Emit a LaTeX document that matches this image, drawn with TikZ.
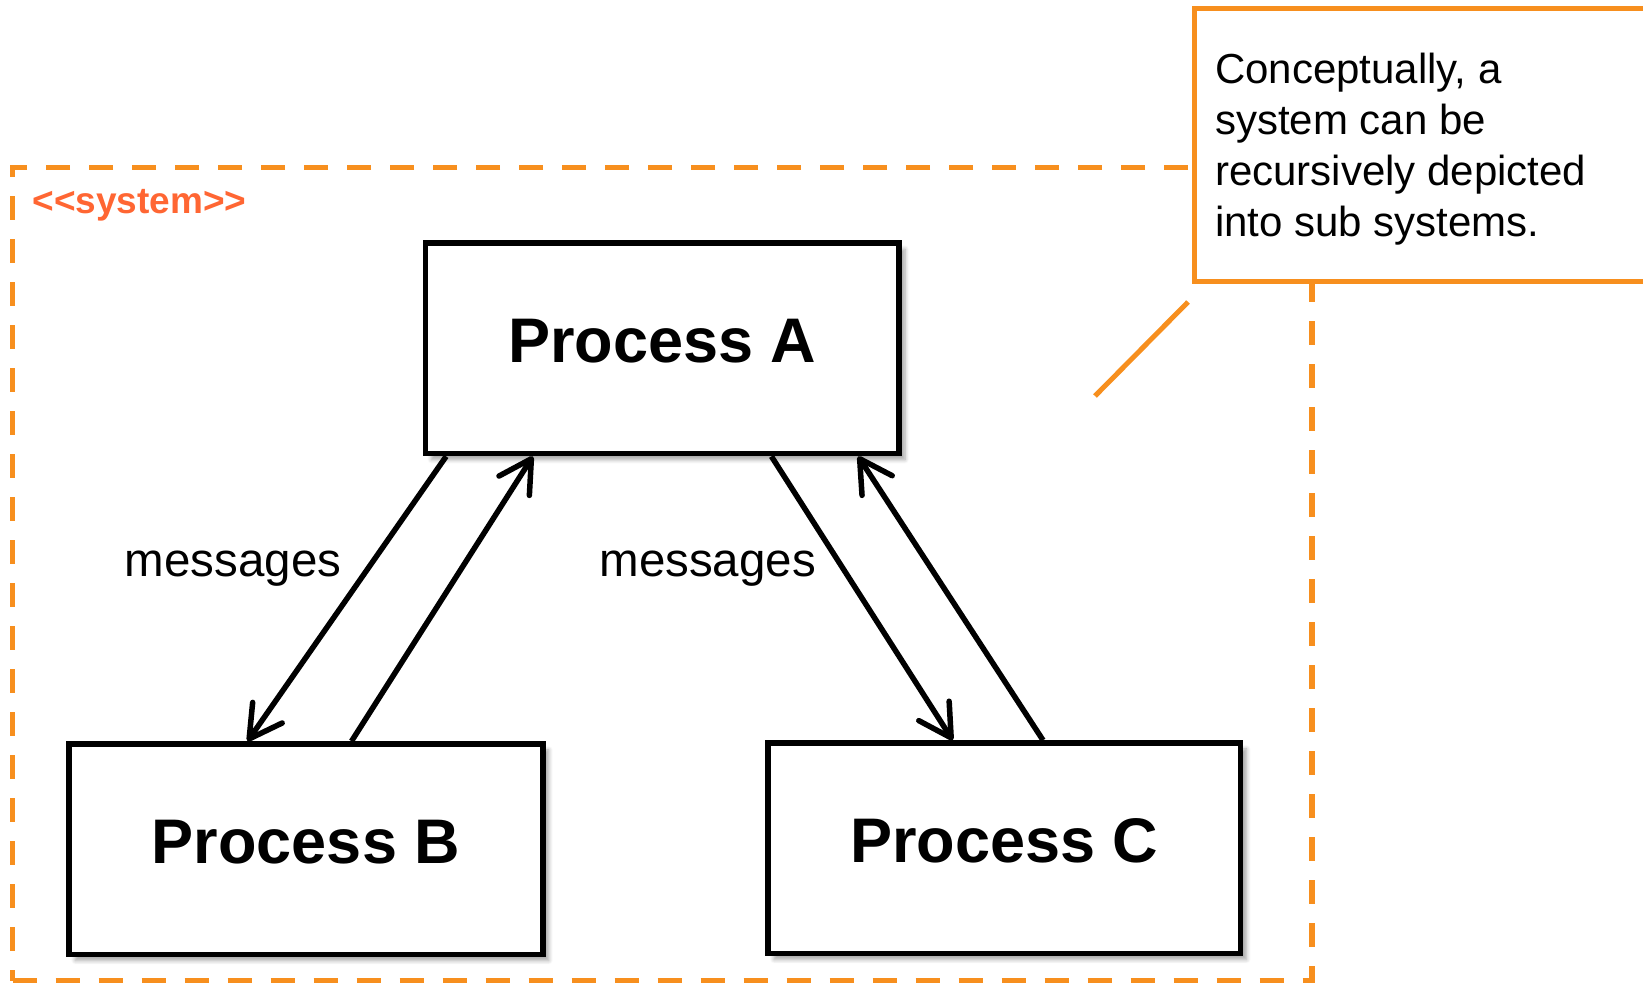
\documentclass[tikz,border=0pt]{standalone}
\usepackage{fontspec}
\setmainfont{Liberation Sans}
\usetikzlibrary{arrows.meta,calc,shadows,shadows.blur}
\definecolor{sysorange}{RGB}{247,143,30}
\definecolor{stereored}{RGB}{255,102,51}

\begin{document}
\begin{tikzpicture}[x=1pt,y=-1pt,
  sysframe/.style={draw=sysorange, line width=5.5pt, dash pattern=on 24pt off 19pt,
    inner sep=0pt, outer sep=0pt, anchor=north west},
  notebox/.style={draw=sysorange, fill=white, line width=5pt, inner sep=0pt,
    outer sep=0pt, anchor=north west},
  noteline/.style={draw=sysorange, line width=5pt},
  procbox/.style={draw=black, fill=white, line width=5.5pt, inner sep=0pt,
    minimum width=473.6pt, minimum height=210.5pt, text height=45pt, text depth=16pt,
    font=\fontsize{63}{70}\selectfont\bfseries,
    blur shadow={shadow xshift=6pt, shadow yshift=-6pt, shadow blur radius=4pt,
      shadow blur steps=6, shadow opacity=35}},
  msgarrow/.style={draw=black, line width=5.5pt,
    -{Straight Barb[length=32pt,width=36pt,round]}},
  msglabel/.style={anchor=base west, inner sep=0pt, font=\fontsize{47.5}{55}\selectfont},
]
\clip (0,0) rectangle (1643,983);

% system boundary with its stereotype
\node[sysframe, minimum width=1299.2pt, minimum height=813.1pt] (sys) at (12.6,167.6) {};
\node[anchor=base west, inner sep=0pt, text=stereored,
  font=\fontsize{37}{42}\selectfont\bfseries] (stereo) at (32.3,213.3) {<{}<system>{}>};

% comment note and its anchor line (base anchor = baseline of the last line)
\node[notebox, minimum width=520pt, minimum height=272.7pt] (note) at (1194.3,8.3) {};
\node[anchor=base west, align=left, inner sep=0pt, font=\fontsize{42}{51.1}\selectfont]
  (notetext) at (1215,236.6) {Conceptually, a\\system can be\\recursively depicted\\into sub systems.};
\coordinate (calloutfoot) at (1095,396);
\coordinate (callouttip) at (1188,302);
\draw[noteline] (calloutfoot) -- (callouttip);

% processes
\node[procbox] (A) at (662.2,348.4) {Process A};
\node[procbox] (B) at (306.0,849.2) {Process B};
\node[procbox, minimum width=472.6pt] (C) at (1004.3,848.2) {Process C};

% message flows
\draw[msgarrow] ($(A.south west)!0.049!(A.south east)$) -- ($(B.north west)!0.378!(B.north east)$);
\draw[msgarrow] ($(B.north west)!0.595!(B.north east)$) -- ($(A.south west)!0.230!(A.south east)$);
\draw[msgarrow] ($(A.south west)!0.728!(A.south east)$) -- ($(C.north west)!0.392!(C.north east)$);
\draw[msgarrow] ($(C.north west)!0.581!(C.north east)$) -- ($(A.south west)!0.909!(A.south east)$);

\node[msglabel] (msgB) at (124.7,576.7) {messages};
\node[msglabel] (msgC) at (599.3,576.7) {messages};
\end{tikzpicture}
\end{document}
